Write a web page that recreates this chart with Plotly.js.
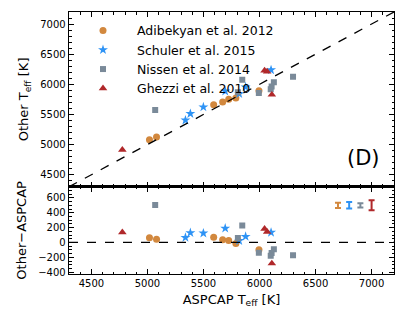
<!DOCTYPE html>
<html>
<head>
<meta charset="utf-8">
<script src="https://cdn.plot.ly/plotly-3.0.1.min.js"></script>
<style>html,body{margin:0;padding:0;background:#fff;}#chart{width:407px;height:326px;}</style>
</head>
<body>
<div id="chart"></div>
<script>
// ASPCAP Teff (x) vs. literature Teff (y)
var adibX = [5018, 5081, 5591, 5671, 5725, 5789, 5995];
var adibY = [5080, 5125, 5660, 5708, 5752, 5774, 5895];
var schulerX = [5339, 5383, 5499, 5694, 5819, 5876, 6103];
var schulerY = [5405, 5512, 5623, 5885, 5842, 5955, 6238];
var nissenX = [5069, 5807, 5846, 5994, 6100, 6108, 6128, 6299];
var nissenY = [5574, 5868, 6075, 5855, 5920, 5965, 6035, 6126];
var ghezziX = [4776, 6045, 6068, 6110];
var ghezziY = [4912, 6228, 6212, 5828];

var names = ["Adibekyan et al. 2012", "Schuler et al. 2015", "Nissen et al. 2014", "Ghezzi et al. 2010"];
var colors = ["#D2883E", "#2E93F5", "#7A8A99", "#B0282A"];
// typical uncertainties shown at top-right of residual panel
var errX = [6700, 6800, 6900, 7000];
var errY = [500, 500, 500, 500];
var errSize = [36, 44, 29, 67];

function diff(a, b) { return a.map(function (v, i) { return v - b[i]; }); }

var sets = [
  {x: adibX, y: adibY, sym: "circle", size: 7},
  {x: schulerX, y: schulerY, sym: "star", size: 7.5},
  {x: nissenX, y: nissenY, sym: "square", size: 6},
  {x: ghezziX, y: ghezziY, sym: "triangle-up", size: 7.5}
];

var traces = [];
sets.forEach(function (s, i) {
  traces.push({x: s.x, y: s.y, xaxis: "x2", yaxis: "y", mode: "markers", type: "scatter",
    name: names[i], marker: {symbol: s.sym, size: s.size, color: colors[i]}, showlegend: true});
});
sets.forEach(function (s, i) {
  traces.push({x: s.x, y: diff(s.y, s.x), xaxis: "x", yaxis: "y2", mode: "markers", type: "scatter",
    marker: {symbol: s.sym, size: s.size, color: colors[i]}, showlegend: false});
});
errX.forEach(function (ex, i) {
  traces.push({x: [ex], y: [errY[i]], xaxis: "x", yaxis: "y2", mode: "markers", type: "scatter",
    marker: {size: 1, color: colors[i], opacity: 0}, showlegend: false,
    error_y: {type: "data", array: [errSize[i]], visible: true, color: colors[i], thickness: 2, width: 3}});
});

var ax = {
  showline: true, linecolor: "#000", linewidth: 1.3, mirror: "allticks",
  ticks: "inside", ticklen: 5, tickcolor: "#000", tickwidth: 1,
  showgrid: false, zeroline: false,
  tickfont: {family: "DejaVu Sans", size: 10, color: "#000"}
};
function merge(a, b) { var o = {}; for (var k in a) o[k] = a[k]; for (var k2 in b) o[k2] = b[k2]; return o; }

var layout = {
  width: 407, height: 326,
  margin: {l: 69, r: 13, t: 12, b: 52},
  paper_bgcolor: "#fff", plot_bgcolor: "#fff",
  font: {family: "DejaVu Sans", color: "#000"},
  showlegend: true,
  legend: {x: 0.0, y: 0.985, xanchor: "left", yanchor: "top", bgcolor: "rgba(0,0,0,0)",
    font: {family: "DejaVu Sans", size: 12.5, color: "#000"}, itemwidth: 58, tracegroupgap: 0},
  xaxis: merge(ax, {anchor: "y2", range: [4300, 7200], dtick: 500, tick0: 4500,
    minor: {ticks: "inside", ticklen: 2.5, dtick: 100, tickcolor: "#000"},
    title: {text: "ASPCAP T<sub>eff</sub> [K]", font: {family: "DejaVu Sans", size: 13, color: "#000"}, standoff: 6}}),
  xaxis2: merge(ax, {anchor: "y", matches: "x", range: [4300, 7200], dtick: 500, tick0: 4500, showticklabels: false,
    minor: {ticks: "inside", ticklen: 2.5, dtick: 100, tickcolor: "#000"}}),
  yaxis: merge(ax, {domain: [0.333, 1], anchor: "x2", range: [4300, 7200], dtick: 500, tick0: 4500,
    minor: {ticks: "inside", ticklen: 2.5, dtick: 100, tickcolor: "#000"},
    title: {text: "Other T<sub>eff</sub> [K]", font: {family: "DejaVu Sans", size: 13, color: "#000"}, standoff: 8}}),
  yaxis2: merge(ax, {domain: [0, 0.333], anchor: "x", range: [-425, 750], dtick: 200, tick0: 0,
    minor: {ticks: "inside", ticklen: 2.5, dtick: 50, tickcolor: "#000"},
    title: {text: "Other\u2212ASPCAP", font: {family: "DejaVu Sans", size: 13, color: "#000"}, standoff: 8}}),
  shapes: [
    {type: "line", xref: "x2", yref: "y", x0: 4300, y0: 4300, x1: 7200, y1: 7200,
      line: {color: "#000", width: 1.3, dash: "dash"}},
    {type: "line", xref: "x", yref: "y2", x0: 4300, y0: 0, x1: 7200, y1: 0,
      line: {color: "#000", width: 1.3, dash: "dash"}}
  ],
  annotations: [
    {text: "(D)", xref: "x2", yref: "y", x: 7095, y: 4780, xanchor: "right", yanchor: "middle", showarrow: false,
      font: {family: "DejaVu Sans", size: 21, color: "#000"}}
  ]
};

Plotly.newPlot("chart", traces, layout, {displayModeBar: false, staticPlot: true});
</script>
</body>
</html>
